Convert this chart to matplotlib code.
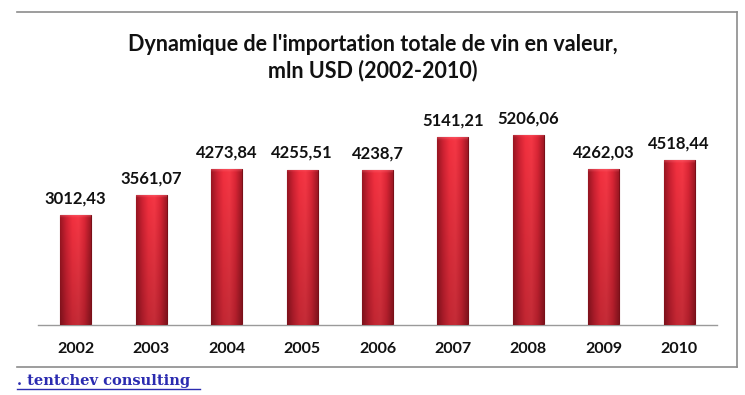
import matplotlib
matplotlib.use("Agg")
import matplotlib.pyplot as plt
import numpy as np
from matplotlib.lines import Line2D
from matplotlib.colors import LinearSegmentedColormap

years = ["2002", "2003", "2004", "2005", "2006", "2007", "2008", "2009", "2010"]
values = [3012.43, 3561.07, 4273.84, 4255.51, 4238.7, 5141.21, 5206.06, 4262.03, 4518.44]
value_labels = ["3012,43", "3561,07", "4273,84", "4255,51", "4238,7", "5141,21", "5206,06", "4262,03", "4518,44"]
title = "Dynamique de l'importation totale de vin en valeur,\nmln USD (2002-2010)"
footer = ". tentchev consulting  "

W, H = 745, 395
fig = plt.figure(figsize=(W / 100, H / 100), dpi=100)
fig.patch.set_facecolor("white")

def fx(px): return px / W
def fy(py): return 1 - py / H

frame_col = "#8c8c8c"
fig.add_artist(Line2D([fx(17), fx(737)], [fy(12), fy(12)], color=frame_col, lw=1.2))
fig.add_artist(Line2D([fx(737), fx(737)], [fy(12), fy(367)], color=frame_col, lw=1.2))
fig.add_artist(Line2D([fx(17), fx(737)], [fy(367), fy(367)], color=frame_col, lw=1.2))

ax = fig.add_axes([fx(38), fy(325), (717 - 38) / W, 219 / H])
x = np.arange(len(years))
bars = ax.bar(x, values, width=0.41, color="#e52a3a", edgecolor="#7a0f18", linewidth=0.8, zorder=2)

cmap = LinearSegmentedColormap.from_list(
    "r", ["#9a1622", "#d02233", "#f2303f", "#f53745", "#dc2636", "#a01824"])
hx = np.linspace(0, 1, 64)
base = cmap(hx)[:, :3]  # horizontal profile
for b in bars:
    x0, w, h = b.get_x(), b.get_width(), b.get_height()
    ny = 120
    vy = np.linspace(1, 0, ny)  # 1 at top row, 0 at bottom row
    dark = 0.80 + 0.20 * vy  # darker towards bottom
    img = base[None, :, :] * dark[:, None, None]
    # light bevel near top
    topband = np.clip((vy - (1 - 60 / h)) / (60 / h), 0, 1)
    img = img + (np.array([1.0, 0.45, 0.5]) - img) * (0.35 * topband)[:, None, None]
    img = np.clip(img, 0, 1)
    im = ax.imshow(img, aspect="auto", extent=[x0, x0 + w, 0, h], origin="upper", zorder=3,
                   interpolation="bilinear")
    im.set_clip_path(b)

for xi, v, lab in zip(x, values, value_labels):
    ax.text(xi, v + 240, lab, ha="center", va="bottom", fontsize=12, fontweight="bold",
            family="Lato", color="#111111")

ax.set_xlim(-0.5, len(years) - 0.5)
ax.set_ylim(0, 6000)
ax.set_xticks(x)
ax.set_xticklabels(years, fontsize=11.5, fontweight="bold", family="Lato", color="#111111")
ax.tick_params(axis="x", length=0, pad=12)
ax.set_yticks([])
for s in ["top", "right", "left"]:
    ax.spines[s].set_visible(False)
ax.spines["bottom"].set_color("#9a9a9a")
ax.spines["bottom"].set_linewidth(1.0)
ax.set_facecolor("none")

fig.text(0.5, fy(58), title, ha="center", va="center", fontsize=15.5, fontweight="bold",
         family="Lato", color="#111111", linespacing=1.25)

t = fig.text(fx(17), fy(385), footer, ha="left", va="baseline", fontsize=10.5, fontweight="bold",
             family="DejaVu Serif", color="#2b2bb0")
r = fig.canvas.get_renderer()
bb = t.get_window_extent(renderer=r)
fig.add_artist(Line2D([bb.x0 / W, bb.x1 / W], [fy(388.5), fy(388.5)], color="#2b2bb0", lw=1.0))

fig.savefig("out.png", dpi=100)
